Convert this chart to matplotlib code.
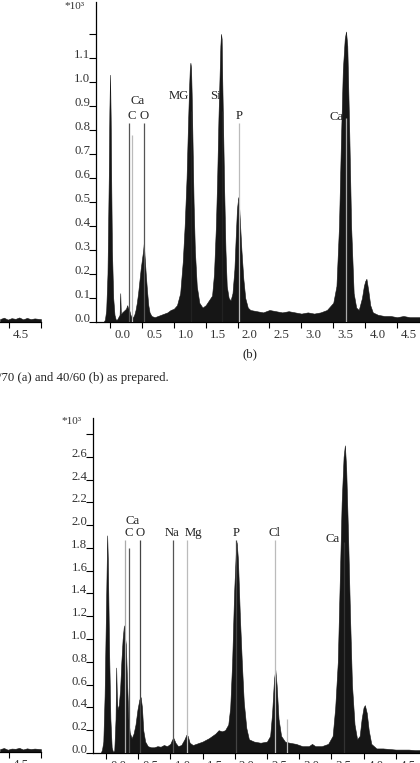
import matplotlib
matplotlib.use("Agg")
import matplotlib.pyplot as plt
import matplotlib.transforms as mtrans

plt.rcParams['font.family'] = ['Liberation Serif', 'DejaVu Serif']

# ---- panel (b), upper spectrum: energy (keV) / counts (*10^3)
e_up = [-0.10, -0.08, -0.06, -0.04, -0.03, -0.02, -0.01, 0.00, 0.01, 0.02, 0.03, 0.05, 0.07,
        0.09, 0.11, 0.13, 0.15, 0.16, 0.17, 0.19, 0.21, 0.23, 0.25, 0.27, 0.28, 0.30, 0.32,
        0.34, 0.36, 0.38, 0.40, 0.42, 0.44, 0.46, 0.48, 0.50, 0.52, 0.53, 0.54, 0.56, 0.58,
        0.60, 0.62, 0.65, 0.70, 0.75, 0.80, 0.85, 0.90, 0.95, 1.00, 1.05, 1.10, 1.14, 1.17,
        1.20, 1.22, 1.24, 1.25, 1.26, 1.27, 1.28, 1.29, 1.31, 1.33, 1.36, 1.40, 1.45, 1.50,
        1.55, 1.60, 1.63, 1.66, 1.68, 1.70, 1.72, 1.73, 1.74, 1.75, 1.76, 1.77, 1.79, 1.81,
        1.83, 1.86, 1.89, 1.92, 1.95, 1.97, 1.99, 2.01, 2.02, 2.04, 2.06, 2.09, 2.12, 2.16,
        2.20, 2.30, 2.40, 2.50, 2.60, 2.70, 2.80, 2.90, 3.00, 3.10, 3.20, 3.30, 3.40, 3.50,
        3.55, 3.59, 3.62, 3.65, 3.68, 3.70, 3.72, 3.75, 3.78, 3.82, 3.86, 3.90, 3.95, 3.98,
        4.00, 4.02, 4.05, 4.08, 4.12, 4.20, 4.30, 4.40, 4.50, 4.60, 4.70, 4.80, 4.90]
c_up = [0.0, 0.01, 0.05, 0.2, 0.4, 0.6, 0.88, 1.03, 0.85, 0.55, 0.3, 0.1, 0.03,
        0.01, 0.01, 0.02, 0.03, 0.12, 0.03, 0.04, 0.045, 0.05, 0.055, 0.07, 0.06, 0.05, 0.03,
        0.02, 0.02, 0.03, 0.05, 0.08, 0.12, 0.17, 0.22, 0.26, 0.3, 0.33, 0.28, 0.2, 0.13,
        0.07, 0.04, 0.025, 0.02, 0.025, 0.03, 0.035, 0.04, 0.05, 0.055, 0.07, 0.12, 0.25, 0.4,
        0.6, 0.8, 0.98, 1.05, 1.08, 1.06, 0.95, 0.8, 0.5, 0.3, 0.15, 0.08, 0.06, 0.07,
        0.09, 0.11, 0.2, 0.4, 0.6, 0.85, 1.05, 1.15, 1.2, 1.18, 1.0, 0.85, 0.55, 0.3,
        0.15, 0.1, 0.09, 0.12, 0.22, 0.35, 0.47, 0.52, 0.5, 0.4, 0.3, 0.18, 0.1, 0.06,
        0.05, 0.045, 0.04, 0.05, 0.045, 0.04, 0.045, 0.04, 0.035, 0.04, 0.035, 0.04, 0.05, 0.08,
        0.15, 0.4, 0.75, 1.05, 1.18, 1.21, 1.15, 0.8, 0.4, 0.12, 0.06, 0.05, 0.1, 0.15,
        0.17, 0.18, 0.13, 0.07, 0.04, 0.03, 0.025, 0.025, 0.02, 0.025, 0.02, 0.02, 0.02]

# ---- lower spectrum
e_lo = [-0.08, -0.06, -0.04, -0.02, 0.00, 0.02, 0.03, 0.05, 0.07, 0.09, 0.11, 0.13, 0.15,
        0.16, 0.17, 0.18, 0.20, 0.22, 0.24, 0.26, 0.28, 0.29, 0.31, 0.33, 0.35, 0.37, 0.40,
        0.43, 0.46, 0.49, 0.52, 0.54, 0.56, 0.58, 0.61, 0.65, 0.70, 0.75, 0.80, 0.85, 0.90,
        0.95, 1.00, 1.03, 1.05, 1.08, 1.12, 1.17, 1.22, 1.25, 1.27, 1.30, 1.35, 1.40, 1.50,
        1.60, 1.70, 1.75, 1.80, 1.85, 1.90, 1.93, 1.96, 1.99, 2.02, 2.03, 2.05, 2.08, 2.11,
        2.14, 2.18, 2.22, 2.30, 2.40, 2.50, 2.55, 2.58, 2.61, 2.63, 2.65, 2.68, 2.72, 2.78,
        2.85, 2.95, 3.05, 3.15, 3.20, 3.25, 3.35, 3.45, 3.52, 3.56, 3.60, 3.63, 3.66, 3.69,
        3.71, 3.73, 3.76, 3.79, 3.82, 3.86, 3.90, 3.94, 3.97, 4.00, 4.02, 4.05, 4.08, 4.12,
        4.20, 4.30, 4.40, 4.50, 4.60, 4.70, 4.80, 4.90]
c_lo = [0.0, 0.03, 0.1, 0.5, 1.2, 1.91, 1.7, 0.9, 0.3, 0.05, 0.01, 0.02, 0.3,
        0.75, 0.5, 0.38, 0.42, 0.55, 0.8, 1.0, 1.12, 1.05, 0.95, 0.6, 0.3, 0.18, 0.13,
        0.17, 0.25, 0.38, 0.47, 0.49, 0.4, 0.2, 0.1, 0.06, 0.05, 0.05, 0.06, 0.055, 0.07,
        0.06, 0.08, 0.12, 0.13, 0.09, 0.06, 0.07, 0.12, 0.16, 0.15, 0.09, 0.07, 0.08, 0.1,
        0.13, 0.17, 0.2, 0.19, 0.2, 0.25, 0.4, 0.8, 1.4, 1.8, 1.85, 1.7, 1.2, 0.8,
        0.45, 0.22, 0.12, 0.1, 0.09, 0.1, 0.15, 0.35, 0.65, 0.73, 0.6, 0.3, 0.15, 0.1,
        0.09, 0.08, 0.06, 0.06, 0.08, 0.06, 0.06, 0.08, 0.15, 0.4, 0.8, 1.5, 2.2, 2.6,
        2.7, 2.5, 1.9, 1.2, 0.6, 0.25, 0.12, 0.15, 0.3, 0.4, 0.42, 0.35, 0.2, 0.08,
        0.04, 0.04, 0.035, 0.03, 0.03, 0.03, 0.025, 0.025]

# ---- remnant of panel (a) at left edge
e_rem = [4.36, 4.42, 4.48, 4.54, 4.60, 4.66, 4.72, 4.78, 4.84, 4.90, 4.96, 5.00]
c_rem_up = [0.012, 0.018, 0.01, 0.016, 0.013, 0.019, 0.011, 0.017, 0.012, 0.015, 0.013, 0.012]
c_rem_lo = [0.025, 0.035, 0.02, 0.03, 0.028, 0.036, 0.022, 0.032, 0.026, 0.03, 0.027, 0.025]

# element marker lines
up_line_e = [0.30, 0.34, 0.53, 1.27, 1.75, 2.02, 3.70]
up_line_top = [0.83, 0.78, 0.83, 0.88, 0.88, 0.83, 0.85]
up_line_col = ['#555555', '#bbbbbb', '#555555', '#222222', '#222222', '#bbbbbb', '#aaaaaa']
lo_line_e = [0.30, 0.36, 0.53, 1.04, 1.26, 2.02, 2.62, 2.81, 3.69]
lo_line_top = [1.87, 1.80, 1.87, 1.87, 1.87, 1.87, 1.87, 0.30, 1.85]
lo_line_col = ['#aaaaaa', '#555555', '#444444', '#555555', '#bbbbbb', '#444444',
               '#bbbbbb', '#bbbbbb', '#333333']

up_lab = ['Ca', 'C', 'O', 'MG', 'Si', 'P', 'Ca']
up_lab_e = [0.43, 0.345, 0.53, 1.08, 1.65, 2.03, 3.55]
up_lab_v = [0.92, 0.86, 0.86, 0.94, 0.94, 0.86, 0.855]
lo_lab = ['Ca', 'C', 'O', 'Na', 'Mg', 'P', 'Cl', 'Ca']
lo_lab_e = [0.42, 0.36, 0.53, 1.035, 1.36, 2.03, 2.61, 3.52]
lo_lab_v = [2.04, 1.93, 1.93, 1.93, 1.93, 1.93, 1.93, 1.88]

x_ticks = [0.0, 0.5, 1.0, 1.5, 2.0, 2.5, 3.0, 3.5, 4.0, 4.5]
up_yticks = [0.0, 0.1, 0.2, 0.3, 0.4, 0.5, 0.6, 0.7, 0.8, 0.9, 1.0, 1.1, 1.2]
lo_yticks = [0.0, 0.2, 0.4, 0.6, 0.8, 1.0, 1.2, 1.4, 1.6, 1.8, 2.0, 2.2, 2.4, 2.6, 2.8]

W, H = 420, 763
fig = plt.figure(figsize=(4.2, 7.63), dpi=100)
FILL = '#161616'
FS = 9.2


def style(ax, yt, ylabelled):
    for s in ['top', 'right']:
        ax.spines[s].set_visible(False)
    ax.spines['left'].set_linewidth(0.9)
    ax.spines['bottom'].set_linewidth(0.9)
    ax.set_xticks(x_ticks)
    ax.set_xticklabels(['%.1f' % t for t in x_ticks])
    ax.set_yticks(yt)
    ax.set_yticklabels(ylabelled)
    ax.tick_params(axis='x', direction='out', length=4, width=0.8, pad=1, labelsize=FS)
    ax.tick_params(axis='y', direction='out', length=5, width=0.8, pad=-1, labelsize=FS)
    off = mtrans.ScaledTranslation(3 / 72, 0, fig.dpi_scale_trans)
    for lab in ax.get_xticklabels():
        lab.set_horizontalalignment('left')
        lab.set_transform(lab.get_transform() + off)
        lab.set_color('#333333')
    for lab in ax.get_yticklabels():
        lab.set_verticalalignment('baseline')
        lab.set_color('#333333')


# upper panel: axis x=96, baseline y=322, top y=2
ax1 = fig.add_axes([96 / W, 1 - 322 / H, 324 / W, 320 / H])
ax1.fill_between(e_up, 0, c_up, color=FILL, lw=0.4, edgecolor=FILL)
ax1.vlines(up_line_e, 0, up_line_top, colors=up_line_col, lw=0.9, zorder=3)
for t, e, v in zip(up_lab, up_lab_e, up_lab_v):
    ax1.text(e, v, t, ha='center', va='center', fontsize=FS, color='#222222')
ax1.set_xlim(-0.22, 4.86)
ax1.set_ylim(0, 1.333)
style(ax1, up_yticks, ['%.1f' % t for t in up_yticks[:-1]] + [''])
ax1.text(-0.035, 0.985, '*10³', transform=ax1.transAxes, ha='right', va='center',
         fontsize=8, color='#333333')

# lower panel: axis x=93, baseline y=753, top y=418
ax2 = fig.add_axes([93 / W, 1 - 753 / H, 327 / W, 335 / H])
ax2.fill_between(e_lo, 0, c_lo, color=FILL, lw=0.4, edgecolor=FILL)
ax2.vlines(lo_line_e, 0, lo_line_top, colors=lo_line_col, lw=0.9, zorder=3)
for t, e, v in zip(lo_lab, lo_lab_e, lo_lab_v):
    ax2.text(e, v, t, ha='center', va='center', fontsize=FS, color='#222222')
ax2.set_xlim(-0.20, 4.876)
ax2.set_ylim(0, 2.94)
style(ax2, lo_yticks, ['%.1f' % t for t in lo_yticks[:-1]] + [''])
ax2.text(-0.035, 0.99, '*10³', transform=ax2.transAxes, ha='right', va='center',
         fontsize=8, color='#333333')

# remnants of panel (a)
for base, cnt, scale in [(322, c_rem_up, 240.0), (752, c_rem_lo, 114.0)]:
    axr = fig.add_axes([0, 1 - base / H, 41 / W, 20 / H])
    axr.fill_between(e_rem, 0, cnt, color=FILL, lw=0.4, edgecolor=FILL)
    axr.set_xlim(4.359, 5.0)
    axr.set_ylim(0, 20 / scale)
    for s in ['top', 'right', 'left']:
        axr.spines[s].set_visible(False)
    axr.spines['bottom'].set_linewidth(0.9)
    axr.set_yticks([])
    axr.set_xticks([4.5, 5.0])
    axr.set_xticklabels(['4.5', ''])
    axr.tick_params(axis='x', direction='out', length=4, width=0.8, pad=1, labelsize=FS,
                    labelcolor='#333333')
    off = mtrans.ScaledTranslation(3 / 72, 0, fig.dpi_scale_trans)
    for lab in axr.get_xticklabels():
        lab.set_horizontalalignment('left')
        lab.set_transform(lab.get_transform() + off)

fig.text(250 / W, 1 - 354 / H, '(b)', ha='center', va='center', fontsize=FS, color='#222222')
fig.text(-2 / W, 1 - 378 / H, '/70 (a) and 40/60 (b) as prepared.', ha='left', va='center',
         fontsize=FS, color='#222222')

fig.savefig('out.png', dpi=100)
